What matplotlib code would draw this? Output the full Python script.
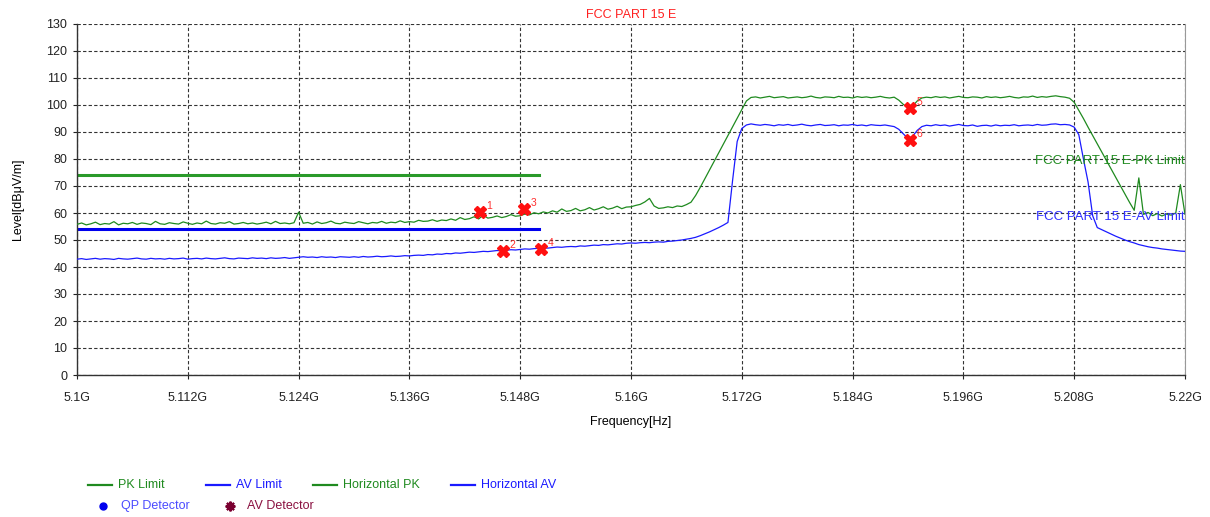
import numpy as np
import matplotlib
matplotlib.use('Agg')
import matplotlib.pyplot as plt
from matplotlib.lines import Line2D
from matplotlib.transforms import blended_transform_factory

plt.rcParams['font.family'] = ['Liberation Sans', 'DejaVu Sans']

# sweep: 5.100 GHz to 5.220 GHz, 0.5 MHz step (241 points)
freq_ghz = np.linspace(5.100, 5.220, 241)

horizontal_pk = [
    55.8, 56.3, 55.6, 56.0, 56.6, 55.7, 56.1, 55.9, 56.8, 55.6, 56.2, 56.0, 56.5, 55.8, 56.3, 56.1, 55.7, 56.9, 56.0, 55.8,
    56.4, 56.1, 55.9, 56.7, 56.2, 55.8, 56.3, 56.0, 57.0, 56.1, 55.9, 56.4, 56.2, 56.8, 55.9, 56.1, 56.5, 56.0, 56.3, 55.9,
    56.2, 56.6, 56.0, 56.9, 56.1, 56.3, 56.0, 56.4, 60.3, 56.2, 56.5, 55.9, 56.7, 56.1, 56.4, 57.0, 56.2, 56.0, 56.6, 56.3,
    56.1, 56.8, 56.4, 56.0, 56.5, 56.3, 56.9, 56.2, 56.6, 56.4, 57.1, 56.5, 56.8, 56.6, 57.3, 56.9, 57.0, 57.5, 56.9, 57.4,
    57.2, 57.8, 57.3, 58.3, 57.6, 57.9, 58.6, 57.8, 59.2, 58.1, 58.4, 58.9, 58.3, 58.7, 59.4, 58.8, 59.0, 59.6, 59.3, 60.1,
    59.7, 60.4, 60.0, 60.8, 60.3, 61.5, 60.6, 60.9, 61.7, 60.8, 61.2, 62.0, 61.1, 61.6, 62.3, 61.4, 61.8, 62.5, 61.6, 62.2,
    62.3, 62.8, 63.2, 64.1, 65.4, 62.6, 61.7, 61.9, 62.3, 62.0, 62.6, 62.4, 63.1, 64.0, 66.5, 69.5, 72.7, 75.9, 79.1, 82.3,
    85.5, 88.7, 91.9, 95.1, 98.3, 101.5, 102.8, 103.0, 102.6, 102.9, 103.2, 102.7, 102.9, 103.1, 102.6, 102.8, 103.0, 102.7, 102.9, 103.3,
    102.8, 102.6, 103.0, 102.9, 102.7, 103.2, 102.8, 102.9, 102.6, 103.1, 102.8, 103.0, 102.7, 102.9, 103.2, 102.8, 102.6, 102.9, 101.8, 100.2,
    99.0, 99.6, 101.5, 102.6, 102.9, 102.7, 103.1, 102.8, 103.0, 102.6, 102.9, 103.2, 102.8, 102.7, 103.0, 102.9, 102.6, 103.1, 102.8, 103.0,
    102.7, 102.9, 103.2, 102.8, 102.6, 103.0, 102.9, 103.3, 102.8, 103.1, 102.9, 103.2, 103.4, 103.1, 102.9, 102.5, 101.0, 98.0, 95.0, 91.8,
    88.7, 85.6, 82.5, 79.4, 76.3, 73.2, 70.1, 67.0, 63.9, 61.0, 73.0, 59.5, 60.2, 59.0, 59.8, 58.9, 59.6, 59.2, 60.0, 70.5, 59.5,
]

horizontal_av = [
    42.9, 43.1, 42.8, 43.0, 43.2, 42.9, 43.1, 43.0, 42.8, 43.2, 43.0, 42.9, 43.1, 43.3, 43.0, 42.9, 43.2, 43.0, 43.1, 42.9,
    43.2, 43.0, 43.1, 43.3, 42.9, 43.1, 43.2, 43.0, 43.3, 43.1, 43.0, 43.2, 43.4, 43.1, 43.0, 43.3, 43.2, 43.1, 43.4, 43.2,
    43.3, 43.1, 43.4, 43.2, 43.3, 43.5, 43.2, 43.4, 43.6, 43.8, 43.6, 43.7, 43.5, 43.8, 43.6, 43.7, 43.5, 43.8, 43.7, 43.6,
    43.8, 43.6, 43.9, 43.7, 43.8, 44.0, 43.8, 43.9, 44.1, 43.9, 44.0, 44.2, 44.1, 44.3, 44.4, 44.3, 44.6, 44.5, 44.8, 44.7,
    45.0, 44.9, 45.2, 45.1, 45.3, 45.5, 45.4, 45.6, 45.8, 45.7, 45.9, 46.1, 46.0, 46.2, 46.4, 46.3, 46.5, 46.7, 46.6, 46.8,
    46.9, 47.1, 47.0, 47.2, 47.4, 47.3, 47.5, 47.6, 47.5, 47.8, 47.7, 47.9, 48.1, 48.0, 48.3, 48.2, 48.4, 48.6, 48.5, 48.8,
    48.9, 48.8, 49.0, 49.1, 49.0, 49.2, 49.3, 49.2, 49.5, 49.6, 49.8, 50.0, 50.3, 50.6, 51.0, 51.6, 52.3, 53.0, 53.8, 54.6,
    55.5, 56.5, 72.0, 86.5, 91.3, 92.6, 93.0, 92.7, 92.5, 92.8, 92.6, 92.3, 92.7, 92.5, 92.8, 92.4, 92.6, 92.9, 92.5, 92.3,
    92.6, 92.8, 92.4, 92.5, 92.7, 92.3, 92.6, 92.5, 92.8, 92.4, 92.6, 92.3, 92.7, 92.5, 92.4, 92.6, 92.3, 92.0, 91.0, 89.3,
    87.6, 88.4, 90.6, 92.0, 92.5, 92.3, 92.7, 92.4, 92.6, 92.2, 92.5, 92.8, 92.4, 92.3, 92.6, 92.1, 92.4, 92.5, 92.2, 92.6,
    92.3, 92.5, 92.4, 92.7, 92.3, 92.5, 92.6, 92.4, 92.8, 92.5, 92.6, 92.9, 93.0, 92.7, 92.8, 92.6, 91.8, 89.0, 80.0, 71.5,
    59.0, 54.6, 53.8, 53.0, 52.2, 51.4, 50.7, 50.0, 49.4, 48.9, 48.3, 47.9, 47.5, 47.2, 47.0, 46.7, 46.5, 46.3, 46.1, 45.9, 45.8,
]

# limit lines (restricted band edge, up to 5.150 GHz)
limit_freq = [5.100, 5.150]
pk_limit = 74.0
av_limit = 54.0

# final measurement points
mark_no = ['1', '2', '3', '4', '5', '6']
mark_freq = [5.1436, 5.1461, 5.1484, 5.1502, 5.1902, 5.1902]
mark_level = [60.4, 45.9, 61.5, 46.7, 98.9, 87.0]

x_ticks = [5.100, 5.112, 5.124, 5.136, 5.148, 5.160, 5.172, 5.184, 5.196, 5.208, 5.220]
x_labels = ['5.1G', '5.112G', '5.124G', '5.136G', '5.148G', '5.16G', '5.172G', '5.184G', '5.196G', '5.208G', '5.22G']

GREEN = '#1f8a1f'
BLUE = '#1a1aff'

fig = plt.figure(figsize=(12.10, 5.17), dpi=100)
ax = fig.add_axes([77 / 1210, 1 - 375 / 517, 1108 / 1210, 351 / 517])

ax.plot(freq_ghz, horizontal_pk, color=GREEN, lw=0.9, zorder=3)
ax.plot(freq_ghz, horizontal_av, color=BLUE, lw=0.9, zorder=3)
ax.plot(limit_freq, [pk_limit, pk_limit], color='#2a9a2a', lw=2.2, zorder=2)
ax.plot(limit_freq, [av_limit, av_limit], color='#0000ee', lw=2.2, zorder=2)

ax.plot(mark_freq, mark_level, ls='none', marker='X', ms=9, color='#ff1010',
        mec='#ff1010', zorder=5)
for n, f, lv in zip(mark_no, mark_freq, mark_level):
    ax.annotate(n, (f, lv), xytext=(5, 2), textcoords='offset points',
                color='#ff3030', fontsize=7.5, zorder=6)

ax.set_xlim(5.100, 5.220)
ax.set_ylim(0, 130)
ax.set_xticks(x_ticks)
ax.set_xticklabels(x_labels)
ax.set_yticks(range(0, 131, 10))
ax.tick_params(labelsize=9, length=3, colors='#222222', pad=4)
ax.tick_params(axis='x', pad=9)

ax.grid(True, color='#333333', ls=(0, (3, 2)), lw=0.8)
ax.spines['top'].set_visible(False)
ax.spines['right'].set_color('#999999')
ax.spines['right'].set_linewidth(0.8)
for s in ['left', 'bottom']:
    ax.spines[s].set_color('#333333')
    ax.spines[s].set_linewidth(1.0)

ax.set_xlabel('Frequency[Hz]', fontsize=9, labelpad=9)
ax.set_ylabel('Level[dB\u03bcV/m]', fontsize=9, labelpad=16)
ax.set_title('FCC PART 15 E', color='#ff2020', fontsize=9, pad=4)

# limit names at the right edge
tr = blended_transform_factory(ax.transAxes, ax.transData)
ax.text(1.0, 79.3, 'FCC PART 15 E-PK Limit', transform=tr, ha='right', va='center',
        color=GREEN, fontsize=9.5, zorder=4)
ax.text(1.0, 58.5, 'FCC PART 15 E-AV Limit', transform=tr, ha='right', va='center',
        color='#3030ff', fontsize=9.5, zorder=4)

# legend block under the plot
def px(x, y):
    return x / 1210, 1 - y / 517

row1 = [(88, 'PK Limit', GREEN, GREEN), (206, 'AV Limit', BLUE, BLUE),
        (313, 'Horizontal PK', GREEN, GREEN), (451, 'Horizontal AV', BLUE, BLUE)]
for x0, name, lc, tc in row1:
    (x1, y1), (x2, _) = px(x0, 485), px(x0 + 24, 485)
    fig.add_artist(Line2D([x1, x2], [y1, y1], color=lc, lw=1.6, transform=fig.transFigure))
    fig.text(*px(x0 + 30, 485), name, color=tc, fontsize=9, va='center')

fig.add_artist(Line2D([px(103, 506)[0]], [px(103, 506)[1]], marker='o', ms=5,
                      color='#0000ee', transform=fig.transFigure))
fig.text(*px(121, 506), 'QP Detector', color='#4b4bff', fontsize=9, va='center')
fig.add_artist(Line2D([px(230, 506)[0]], [px(230, 506)[1]], marker=(8, 2, 0), ms=7,
                      mew=1.5, color='#7a0030', transform=fig.transFigure))
fig.text(*px(247, 506), 'AV Detector', color='#8a1040', fontsize=9, va='center')

fig.savefig('out.png', dpi=100)
